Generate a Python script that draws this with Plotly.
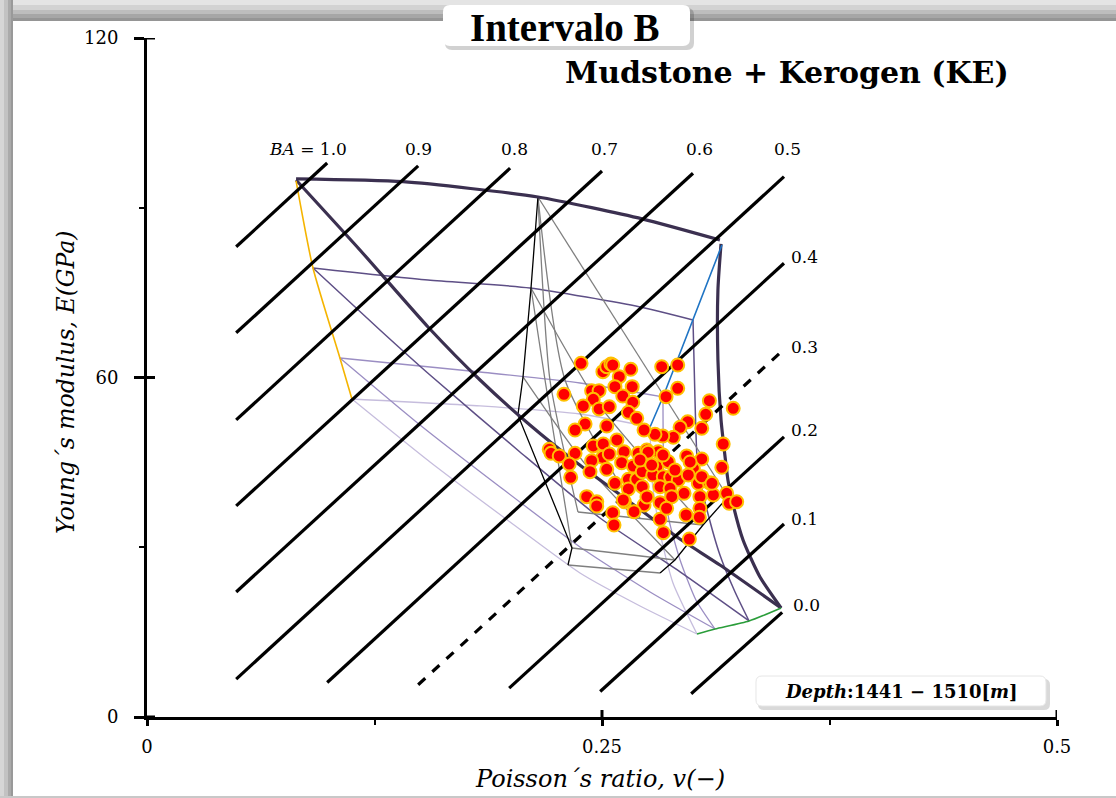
import plotly.graph_objects as go

# ---------------- data ----------------
# measured samples: Poisson's ratio (-) and Young's modulus (GPa)
nu_pts = [0.2385, 0.2505, 0.2526, 0.2549, 0.2559, 0.2658, 0.2828, 0.2916, 0.2595, 0.2291,
          0.2443, 0.2484, 0.2571, 0.2666, 0.2916, 0.2852, 0.2452, 0.2614, 0.2669, 0.2397,
          0.2484, 0.2540, 0.2645, 0.2691, 0.3090, 0.3221, 0.3070, 0.2971, 0.2929, 0.2892,
          0.2834, 0.2791, 0.2731, 0.3048, 0.2407, 0.2352, 0.2526, 0.3166, 0.2210, 0.2220,
          0.2265, 0.2352, 0.2452, 0.2507, 0.2504, 0.2540, 0.2621, 0.2699, 0.2746, 0.2809,
          0.2965, 0.3048, 0.2320, 0.2443, 0.2434, 0.2526, 0.2608, 0.2672, 0.2724, 0.2801,
          0.2864, 0.3002, 0.3158, 0.2328, 0.2571, 0.2645, 0.2691, 0.2721, 0.2779, 0.2837,
          0.2877, 0.2919, 0.2974, 0.3029, 0.3090, 0.3048, 0.2645, 0.2721, 0.2819, 0.2874,
          0.2951, 0.3038, 0.3112, 0.3185, 0.3199, 0.3240, 0.2416, 0.2471, 0.2471, 0.2623,
          0.2731, 0.2819, 0.2883, 0.2676, 0.2559, 0.2566, 0.2819, 0.2855, 0.2962, 0.3038,
          0.3035, 0.2837, 0.2980, 0.2753, 0.2709, 0.2773, 0.2617, 0.3104, 0.2984, 0.2582,
          0.2835, 0.2747, 0.2901]
E_pts = [62.51, 61.03, 61.91, 62.39, 62.21, 61.45, 61.91, 62.21, 60.14, 57.03,
         57.67, 57.67, 58.38, 58.38, 58.09, 56.61, 56.15, 56.73, 55.62, 54.97,
         54.44, 54.84, 53.85, 52.79, 55.90, 54.56, 53.50, 52.19, 51.20, 49.43,
         49.66, 49.96, 50.72, 51.02, 51.78, 50.72, 51.43, 48.25, 47.31, 46.61,
         46.13, 46.61, 47.90, 48.25, 45.90, 46.48, 46.89, 46.61, 47.19, 46.89,
         46.13, 45.60, 44.71, 45.30, 43.35, 43.78, 44.95, 44.36, 44.95, 44.24,
         45.12, 43.95, 44.13, 42.36, 41.30, 42.01, 42.01, 43.35, 42.77, 42.47,
         42.36, 41.89, 42.77, 41.30, 41.41, 42.47, 40.30, 40.70, 40.70, 40.42,
         39.54, 38.94, 39.24, 39.54, 37.77, 38.05, 38.94, 38.05, 37.29, 38.05,
         37.47, 37.88, 38.94, 36.28, 36.11, 33.93, 34.94, 36.89, 35.70, 36.89,
         35.30, 32.57, 31.46, 46.80, 45.42, 44.53, 38.35, 41.30, 45.07, 48.96,
         46.30, 38.90, 43.65]

# brittleness (BA) lines
ba_labels = ["<i>BA</i> = 1.0", "0.9", "0.8", "0.7", "0.6", "0.5", "0.4", "0.3", "0.2", "0.1", "0.0"]
ba_nu_start = [0.049, 0.049, 0.049, 0.049, 0.049, 0.049, 0.099, 0.149, 0.199, 0.249, 0.299]
ba_E_start = [83.1, 67.9, 52.5, 37.3, 22.1, 6.7, 6.1, 5.7, 5.1, 4.5, 4.1]
ba_nu_end = [0.099, 0.149, 0.1995, 0.250, 0.300, 0.350, 0.350, 0.349, 0.350, 0.350, 0.349]
ba_E_end = [97.9, 97.4, 97.0, 96.5, 96.1, 95.5, 80.2, 64.7, 49.5, 34.1, 18.5]
ba_label_nu = [0.0882, 0.149, 0.2018, 0.2513, 0.3036, 0.3521, 0.3615, 0.3615, 0.3615, 0.3615, 0.3626]
ba_label_E = [100.3, 100.3, 100.3, 100.3, 100.3, 100.3, 81.35, 65.39, 50.78, 34.99, 19.85]

# template: porosity level 0 (thick)
top0_nu = [0.0819, 0.1407, 0.2148, 0.2725, 0.3148]
top0_E = [95.1, 94.6, 91.9, 88.0, 84.3]
right0_nu = [0.3154, 0.3137, 0.3137, 0.3154, 0.3170, 0.3192, 0.3214, 0.3275, 0.3368, 0.3484]
right0_E = [83.60, 75.47, 63.10, 52.49, 47.72, 41.89, 38.35, 31.28, 24.74, 19.27]
diag0_nu = [0.0819, 0.1170, 0.1544, 0.1830, 0.2104, 0.2363, 0.2654, 0.2912, 0.3148, 0.3484]
diag0_E = [94.91, 82.54, 68.93, 59.56, 51.61, 44.89, 38.00, 31.81, 26.86, 19.27]
# level 1
top1_nu = [0.0912, 0.1544, 0.2104, 0.2709, 0.3000]
top1_E = [79.36, 77.23, 75.82, 72.46, 70.17]
right1_nu = [0.3000, 0.3011, 0.3027, 0.3077, 0.3148, 0.3231, 0.3308]
right1_E = [70.17, 56.03, 43.65, 36.59, 28.63, 22.09, 16.97]
diag1_nu = [0.0912, 0.1280, 0.1555, 0.2049, 0.2489, 0.2929, 0.3308]
diag1_E = [79.36, 68.40, 60.44, 46.84, 35.17, 25.63, 16.97]
# level 2
top2_nu = [0.1060, 0.1830, 0.2379, 0.2835]
top2_E = [63.45, 60.97, 59.03, 56.56]
right2_nu = [0.2835, 0.2841, 0.2868, 0.2929, 0.3016, 0.3121]
right2_E = [56.56, 41.89, 34.82, 27.75, 20.68, 15.55]
diag2_nu = [0.1060, 0.1500, 0.1940, 0.2379, 0.2764, 0.3121]
diag2_E = [63.45, 51.61, 40.65, 30.05, 22.09, 15.55]
# level 3
top3_nu = [0.1126, 0.1830, 0.2379, 0.2764]
top3_E = [56.20, 54.97, 53.55, 51.25]
right3_nu = [0.2764, 0.2775, 0.2819, 0.2890, 0.3022]
right3_E = [51.25, 41.89, 32.52, 23.68, 14.67]
diag3_nu = [0.1126, 0.1555, 0.1995, 0.2379, 0.2709, 0.3022]
diag3_E = [56.20, 45.07, 34.46, 25.45, 19.62, 14.67]
# coloured edges
yellow_nu = [0.0819, 0.0912, 0.1060, 0.1126]
yellow_E = [94.74, 79.36, 63.45, 56.20]
blue_nu = [0.3159, 0.3000, 0.2835, 0.2764]
blue_E = [83.42, 70.17, 56.56, 51.25]
green_nu = [0.3022, 0.3121, 0.3308, 0.3484]
green_E = [14.67, 15.55, 16.97, 19.27]

# kerogen sub-grid (black / grey)
kb_left_nu = [0.2148, 0.2110, 0.2066, 0.2038, 0.2335, 0.2313]
kb_left_E = [91.90, 75.82, 60.09, 53.38, 29.87, 26.86]
kb_right_nu = [0.3192, 0.3055, 0.2901, 0.2819]
kb_right_E = [38.88, 33.93, 27.75, 25.45]
kg_lines = [
    ([0.2368, 0.3055], [36.23, 33.93]),
    ([0.2335, 0.2901], [29.87, 27.75]),
    ([0.2313, 0.2819], [26.86, 25.45]),
    ([0.2148, 0.2214, 0.2368], [91.90, 59.56, 36.23]),
    ([0.2148, 0.2297, 0.2709], [91.90, 59.56, 35.17]),
    ([0.2148, 0.2670, 0.3192], [91.90, 65.39, 38.88]),
    ([0.2110, 0.2187, 0.2335], [75.82, 59.56, 29.87]),
    ([0.2110, 0.2489, 0.3055], [75.82, 55.00, 33.93]),
    ([0.2066, 0.2400, 0.2901], [60.09, 45.00, 27.75]),
]

# ---------------- figure ----------------
W, H = 1116, 798
ML, MR, MT, MB = 147, 59, 38, 81
PW, PH = W - ML - MR, H - MT - MB


def pp(x, y):
    return (x - ML) / PW, (H - MB - y) / PH


def rrect_path(x0, y0, x1, y1, r):
    def P(x, y):
        u, v = pp(x, y)
        return f"{u:.5f},{v:.5f}"
    return (f"M {P(x0 + r, y0)} L {P(x1 - r, y0)} Q {P(x1, y0)} {P(x1, y0 + r)} "
            f"L {P(x1, y1 - r)} Q {P(x1, y1)} {P(x1 - r, y1)} L {P(x0 + r, y1)} "
            f"Q {P(x0, y1)} {P(x0, y1 - r)} L {P(x0, y0 + r)} Q {P(x0, y0)} {P(x0 + r, y0)} Z")


fig = go.Figure()


def add_line(xs, ys, color, width, dash="solid", shape="spline"):
    fig.add_trace(go.Scatter(x=xs, y=ys, mode="lines", hoverinfo="skip",
                             line=dict(color=color, width=width, dash=dash, shape=shape,
                                       smoothing=0.6)))


# porosity template
C3, C2, C1, C0 = "#c6bddd", "#9b8ec3", "#5e4f86", "#3b3050"
for xs, ys in [(top3_nu, top3_E), (right3_nu, right3_E), (diag3_nu, diag3_E)]:
    add_line(xs, ys, C3, 1.3)
for xs, ys in [(top2_nu, top2_E), (right2_nu, right2_E), (diag2_nu, diag2_E)]:
    add_line(xs, ys, C2, 1.3)
for xs, ys in [(top1_nu, top1_E), (right1_nu, right1_E), (diag1_nu, diag1_E)]:
    add_line(xs, ys, C1, 1.5)
# kerogen sub-grid
for xs, ys in kg_lines:
    add_line(xs, ys, "#7f7f7f", 1.3)
add_line(kb_left_nu, kb_left_E, "black", 1.3, shape="linear")
add_line(kb_right_nu, kb_right_E, "black", 1.3, shape="linear")
# thick outline
for xs, ys in [(top0_nu, top0_E), (right0_nu, right0_E), (diag0_nu, diag0_E)]:
    add_line(xs, ys, C0, 3.2)
add_line(yellow_nu, yellow_E, "#f5b400", 1.6)
add_line(blue_nu, blue_E, "#1f74c4", 1.6, shape="linear")
add_line(green_nu, green_E, "#2a9d3a", 1.6)

# BA lines
for i, lab in enumerate(ba_labels):
    add_line([ba_nu_start[i], ba_nu_end[i]], [ba_E_start[i], ba_E_end[i]], "black", 3.2,
             dash="dash" if lab == "0.3" else "solid", shape="linear")

# samples
fig.add_trace(go.Scatter(x=nu_pts, y=E_pts, mode="markers",
                         marker=dict(size=13, color="#ff0000",
                                     line=dict(color="#ffc000", width=2))))

ann = []
for i, lab in enumerate(ba_labels):
    ann.append(dict(x=ba_label_nu[i], y=ba_label_E[i], xref="x", yref="y", text=lab,
                    xanchor="center", yanchor="middle",
                    showarrow=False, font=dict(family="DejaVu Serif", size=17, color="black")))


def paper_text(px, py, text, family, size, angle=0):
    u, v = pp(px, py)
    ann.append(dict(x=u, y=v, xref="paper", yref="paper", text=text, showarrow=False,
                    xanchor="center", yanchor="middle", textangle=angle,
                    font=dict(family=family, size=size, color="black")))


paper_text(565, 27, "<b>Intervalo B</b>", "Liberation Serif", 39)
paper_text(787, 72, "<b>Mudstone + Kerogen (KE)</b>", "DejaVu Serif", 30)
paper_text(901, 691, "<b><i>Depth</i>:1441 − 1510[<i>m</i>]</b>", "DejaVu Serif", 18)
paper_text(66, 382, "<i>Young´s modulus, E(GPa)</i>", "DejaVu Serif", 23.5, angle=-90)
paper_text(600, 779, "<i>Poisson´s ratio, v(−)</i>", "DejaVu Serif", 24)

shapes = []
# frame shadow bands
top_steps = [(0, 5, "#e4e4e4"), (5, 10, "#d2d2d2"), (10, 14, "#bdbdbd"), (14, 18, "#a6a6a6"), (18, 21, "#959595")]
for y0, y1, c in top_steps:
    a, b = pp(0, y0)
    c2, d = pp(W, y1)
    shapes.append(dict(type="rect", xref="paper", yref="paper", x0=a, x1=c2, y0=b, y1=d,
                       fillcolor=c, line=dict(width=0), layer="below"))
left_steps = [(0, 4, "#d6d6d6"), (4, 8, "#c2c2c2"), (8, 11, "#aaaaaa"), (11, 13, "#999999")]
for x0, x1, c in left_steps:
    a, b = pp(x0, 0)
    c2, d = pp(x1, H)
    shapes.append(dict(type="rect", xref="paper", yref="paper", x0=a, x1=c2, y0=b, y1=d,
                       fillcolor=c, line=dict(width=0), layer="below"))
# white chart area with rounded corner
shapes.append(dict(type="path", xref="paper", yref="paper", path=rrect_path(13, 21, W + 20, H + 20, 8),
                   fillcolor="white", line=dict(width=0), layer="below"))
a, b = pp(0, H - 2)
c2, d = pp(W, H)
shapes.append(dict(type="rect", xref="paper", yref="paper", x0=a, x1=c2, y0=b, y1=d,
                   fillcolor="#c8c8c8", line=dict(width=0), layer="below"))
# title box with shadow
shapes.append(dict(type="path", xref="paper", yref="paper", path=rrect_path(445, 8, 694, 50, 7),
                   fillcolor="rgba(0,0,0,0.18)", line=dict(width=0)))
shapes.append(dict(type="path", xref="paper", yref="paper", path=rrect_path(443, 5, 690, 46, 7),
                   fillcolor="white", line=dict(width=0)))
# depth box with shadow
shapes.append(dict(type="path", xref="paper", yref="paper", path=rrect_path(758, 679, 1050, 710, 6),
                   fillcolor="rgba(0,0,0,0.15)", line=dict(width=0)))
shapes.append(dict(type="path", xref="paper", yref="paper", path=rrect_path(756, 676, 1046, 706, 6),
                   fillcolor="white", line=dict(color="#e6e6e6", width=1)))
# inner halves of the crossing major ticks
for xv in [0.25, 0.5]:
    shapes.append(dict(type="line", xref="x", yref="paper", x0=xv, x1=xv, y0=0, y1=7 / PH,
                       line=dict(color="black", width=3)))
for yv in [0, 60, 120]:
    shapes.append(dict(type="line", xref="paper", yref="y", x0=0, x1=8 / PW, y0=yv, y1=yv,
                       line=dict(color="black", width=3)))

fig.update_layout(
    width=W, height=H, margin=dict(l=ML, r=MR, t=MT, b=MB),
    paper_bgcolor="white", plot_bgcolor="rgba(0,0,0,0)", showlegend=False,
    annotations=ann, shapes=shapes,
    xaxis=dict(range=[0, 0.5], showgrid=False, zeroline=False, showline=True, linewidth=3,
               linecolor="black", ticks="outside", tickvals=[0, 0.25, 0.5],
               ticktext=["0", "0.25", "0.5"], ticklen=6, tickwidth=3, tickcolor="black",
               ticklabelstandoff=5,
               minor=dict(ticks="outside", tickvals=[0.125, 0.375], ticklen=5, tickwidth=2,
                          tickcolor="black"),
               tickfont=dict(family="DejaVu Serif", size=18, color="black")),
    yaxis=dict(range=[0, 120], showgrid=False, zeroline=False, showline=True, linewidth=3,
               linecolor="black", ticks="outside", tickvals=[0, 60, 120],
               ticktext=["0", "60", "120"], ticklen=10, tickwidth=3, tickcolor="black",
               ticklabelstandoff=12,
               minor=dict(ticks="outside", tickvals=[30, 90], ticklen=5, tickwidth=2,
                          tickcolor="black"),
               tickfont=dict(family="DejaVu Serif", size=18, color="black")),
)

fig.write_html("out.html", config={"displayModeBar": False},
               post_script="document.body.style.margin='0px';document.body.style.overflow='hidden';")
